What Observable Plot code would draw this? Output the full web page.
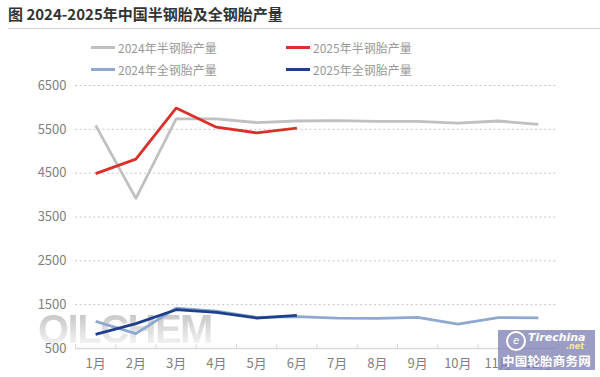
<!DOCTYPE html>
<html>
<head>
<meta charset="utf-8">
<script src="https://cdn.jsdelivr.net/npm/d3@7"></script>
<script src="https://cdn.jsdelivr.net/npm/@observablehq/plot@0.6"></script>
<style>
  html, body { margin: 0; padding: 0; background: #fff; }
  #wrap { position: relative; width: 600px; height: 377px; overflow: hidden; font-family: "Noto Sans CJK SC", "Noto Sans", sans-serif; }
  #title { position: absolute; left: 8px; top: 3px; font-size: 15px; font-weight: bold; color: #333; white-space: nowrap; line-height: 22px; }
  #rule { position: absolute; left: 8px; right: 0; top: 28px; height: 0; border-top: 1.5px solid #d0d0d0; }
  .lg { position: absolute; display: flex; align-items: center; font-size: 12px; color: #999; white-space: nowrap; }
  .sw { width: 24px; height: 3px; margin-right: 3px; }
  #chart { position: absolute; left: 0; top: 0; }
  #qil { position: absolute; left: 38px; top: 307px; font-family: "Liberation Sans", Arial, sans-serif; font-weight: bold; font-size: 40px; letter-spacing: -1.5px;
         background: linear-gradient(#bdbdbd, #f4f4f4 85%); -webkit-background-clip: text; background-clip: text; color: transparent; }
  #tire { position: absolute; left: 498px; top: 330px; width: 97px; height: 40px; background: rgba(128,130,180,0.78); color: #fff; }
  #tire .t1 { position: absolute; left: 30px; top: 1px; font-family: "DejaVu Sans", sans-serif; font-style: italic; font-weight: bold; font-size: 11px; }
  #tire .t2 { position: absolute; left: 68px; top: 12px; font-family: "DejaVu Sans", sans-serif; font-style: italic; font-weight: bold; font-size: 8px; color: #f4e79c; }
  #tire .t3 { position: absolute; left: 4px; top: 21px; font-weight: bold; font-size: 12.5px; letter-spacing: 0.2px; }
  #tire .e { position: absolute; left: 8px; top: 1px; width: 16px; height: 16px; border: 2px solid #fff; border-radius: 50%; font-size: 10px; line-height: 16px; text-align: center; font-style: italic; font-family: "DejaVu Sans"; }
</style>
</head>
<body>
<div id="wrap">
  <div id="qil">QILCHEM</div>
  <div id="chart"></div>
  <div id="title">图 2024-2025年中国半钢胎及全钢胎产量</div>
  <div id="rule"></div>
  <div id="legend"></div>
  <div id="tire"><div class="e">e</div><div class="t1">Tirechina</div><div class="t2">.net</div><div class="t3">中国轮胎商务网</div></div>
</div>
<script>
// Data
const months = ["1月","2月","3月","4月","5月","6月","7月","8月","9月","10月","11月","12月"];
const semi2024 = [5590, 3925, 5740, 5740, 5655, 5690, 5700, 5680, 5680, 5640, 5690, 5615];
const semi2025 = [4490, 4820, 5985, 5550, 5420, 5530];
const all2024  = [1120, 838, 1422, 1355, 1210, 1225, 1194, 1187, 1210, 1057, 1203, 1200];
const all2025  = [822, 1066, 1385, 1324, 1195, 1255];
const yTicks = [500, 1500, 2500, 3500, 4500, 5500, 6500];
const seriesNames = ["2024年半钢胎产量", "2025年半钢胎产量", "2024年全钢胎产量", "2025年全钢胎产量"];
const seriesColors = ["#c0c0c0", "#d8302b", "#8ea8d2", "#1d3f8c"];
const seriesValues = [semi2024, semi2025, all2024, all2025];

const rows = (vals) => vals.map((v, i) => ({m: i + 1, v}));
const monthIdx = months.map((_, i) => i + 1);
const bounds = [0.5, ...monthIdx.map(i => i + 0.5)];

const chart = Plot.plot({
  width: 600,
  height: 377,
  marginTop: 85,
  marginBottom: 29,
  marginLeft: 75,
  marginRight: 42,
  style: {fontFamily: "Noto Sans CJK SC, Noto Sans, sans-serif", background: "transparent"},
  x: {domain: [0.5, 12.5]},
  y: {domain: [500, 6500]},
  marks: [
    Plot.gridY(yTicks.slice(1), {stroke: "#c4c4c4", strokeOpacity: 1, strokeDasharray: "2,2.6", strokeWidth: 1}),
    Plot.ruleY([yTicks[0]], {stroke: "#d9d9d9", strokeWidth: 1.5}),
    Plot.ruleX(bounds, {y1: yTicks[0], y2: yTicks[0], insetTop: -4, stroke: "#d9d9d9", strokeWidth: 1}),
    Plot.axisY(yTicks, {tickSize: 0, tickPadding: 9, tickFormat: d => String(d), fill: "#7f7f7f", fontSize: 13, label: null}),
    Plot.axisX(monthIdx, {tickSize: 0, tickPadding: 10, tickFormat: i => months[i - 1], fill: "#7f7f7f", fontSize: 13, label: null}),
    ...seriesValues.map((vals, k) =>
      Plot.line(rows(vals), {x: "m", y: "v", stroke: seriesColors[k], strokeWidth: 2.8, strokeLinejoin: "round", strokeLinecap: "butt"})
    )
  ]
});
document.getElementById("chart").appendChild(chart);

// Legend
const legendPos = [[91, 47], [286, 47], [91, 69], [286, 69]];
const lg = document.getElementById("legend");
seriesNames.forEach((name, k) => {
  const d = document.createElement("div");
  d.className = "lg";
  d.style.left = legendPos[k][0] + "px";
  d.style.top = (legendPos[k][1] - 9) + "px";
  d.style.height = "18px";
  d.innerHTML = `<div class="sw" style="background:${seriesColors[k]}"></div><span>${name}</span>`;
  lg.appendChild(d);
});
</script>
</body>
</html>
